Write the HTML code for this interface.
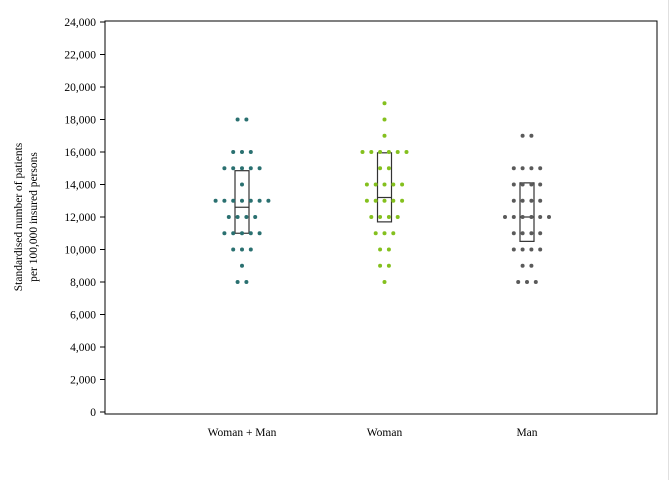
<!DOCTYPE html>
<html><head><meta charset="utf-8"><style>
body{margin:0;background:#fff;}
svg text{font-family:"Liberation Serif",serif;font-size:11.5px;fill:#000;}
</style></head><body>
<svg width="672" height="480">
<rect x="105" y="21" width="552" height="393" fill="none" stroke="#000" stroke-width="1"/>
<line x1="668.5" y1="0" x2="668.5" y2="480" stroke="#e0e0e0"/>
<g id="yaxis"></g>
<g id="marks"></g>
<text transform="translate(22,217) rotate(-90)" text-anchor="middle"><tspan x="0" dy="0">Standardised number of patients</tspan><tspan x="0" dy="15">per 100,000 insured persons</tspan></text>
</svg>
<script>
const categories=["Woman + Man","Woman","Man"];
const colors=["#2a7070","#84c01e","#5a5a5a"];
const levels=[8000,9000,10000,11000,12000,13000,14000,15000,16000,17000,18000,19000];
const countsWM=[2,1,3,5,4,7,1,5,3,0,2,0];
const countsW=[1,2,2,3,4,5,5,2,6,1,1,1];
const countsM=[3,2,4,4,6,4,4,4,0,2,0,0];
const q1=[11000,11700,10500];
const medians=[12600,13200,12000];
const q3=[14850,15950,14100];
const yTicks=[0,2000,4000,6000,8000,10000,12000,14000,16000,18000,20000,22000,24000];
const allCounts=[countsWM,countsW,countsM];
const NS="http://www.w3.org/2000/svg";
const y=v=>412-v*0.01625;
const xc=i=>242+i*142.5;
const ya=document.getElementById('yaxis');
yTicks.forEach(t=>{
  const l=document.createElementNS(NS,'line');
  l.setAttribute('x1',100);l.setAttribute('x2',105);l.setAttribute('y1',y(t));l.setAttribute('y2',y(t));l.setAttribute('stroke','#000');
  
  
  ya.appendChild(l);
  const tx=document.createElementNS(NS,'text');
  tx.setAttribute('x',96);tx.setAttribute('y',y(t)+4);tx.setAttribute('text-anchor','end');
  tx.textContent=t.toLocaleString('en-US');
  
  
  ya.appendChild(tx);
});
const mk=document.getElementById('marks');
categories.forEach((c,i)=>{
  const cx=xc(i);
  const b=document.createElementNS(NS,'rect');
  b.setAttribute('x',cx-7);b.setAttribute('width',14);b.setAttribute('y',y(q3[i]));b.setAttribute('height',y(q1[i])-y(q3[i]));
  b.setAttribute('fill','none');b.setAttribute('stroke','#333');b.setAttribute('stroke-width','1.2');
  
  
  mk.appendChild(b);
  const m=document.createElementNS(NS,'line');
  m.setAttribute('x1',cx-7);m.setAttribute('x2',cx+7);m.setAttribute('y1',y(medians[i]));m.setAttribute('y2',y(medians[i]));m.setAttribute('stroke','#333');m.setAttribute('stroke-width','1.2');
  
  
  mk.appendChild(m);
  levels.forEach((lv,k)=>{
    const n=allCounts[i][k];
    for(let j=0;j<n;j++){
      const d=document.createElementNS(NS,'circle');
      d.setAttribute('cx',cx+(j-(n-1)/2)*8.8);d.setAttribute('cy',y(lv));d.setAttribute('r',2);d.setAttribute('fill',colors[i]);
      
      
      mk.appendChild(d);
    }
  });
  const tx=document.createElementNS(NS,'text');
  tx.setAttribute('x',cx);tx.setAttribute('y',436);tx.setAttribute('text-anchor','middle');
  tx.textContent=c;
  
  
  mk.appendChild(tx);
});
</script>
</body></html>
